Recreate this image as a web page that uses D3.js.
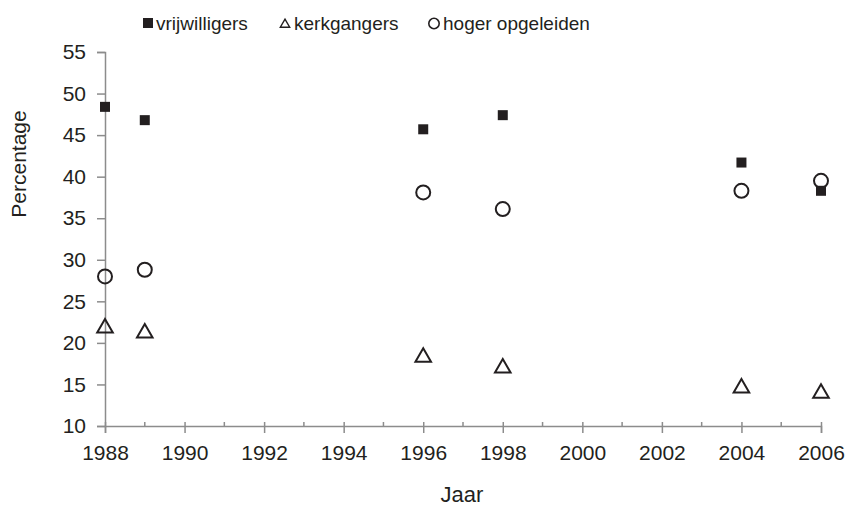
<!DOCTYPE html>
<html>
<head>
<meta charset="utf-8">
<script src="https://cdn.jsdelivr.net/npm/d3@7"></script>
<style>
body { margin: 0; background: #fff; }
text { font-family: "Liberation Sans", Arial, sans-serif; fill: #231f20; }
</style>
</head>
<body>
<div id="chart"></div>
<script>
var years = [1988, 1989, 1996, 1998, 2004, 2006];
var vrijwilligers = [48.4, 46.8, 45.7, 47.4, 41.7, 38.3];
var kerkgangers = [21.9, 21.3, 18.4, 17.1, 14.7, 14.05];
var hogerOpgeleiden = [28.0, 28.8, 38.1, 36.1, 38.3, 39.5];
var yTicks = [10, 15, 20, 25, 30, 35, 40, 45, 50, 55];
var xMajor = [1988, 1990, 1992, 1994, 1996, 1998, 2000, 2002, 2004, 2006];
var xMinor = [1989, 1991, 1993, 1995, 1997, 1999, 2001, 2003, 2005];

var svgWidth = 847;
var svgHeight = 508;

var margin = { top: 52, right: 26, bottom: 82, left: 105 };
var width = svgWidth - margin.left - margin.right;
var height = svgHeight - margin.top - margin.bottom;

var svg = d3.select("#chart")
    .append("svg")
    .attr("width", svgWidth)
    .attr("height", svgHeight);

var chartGroup = svg.append("g")
    .attr("transform", `translate(${margin.left}, ${margin.top})`);

var xScale = d3.scaleLinear().domain([1988, 2006]).range([0, width]);
var yScale = d3.scaleLinear().domain([10, 55]).range([height, 0]);

var axisColor = "#8c8c8c";

// y axis
var leftAxis = d3.axisLeft(yScale).tickValues(yTicks).tickSize(8).tickPadding(11);
var yAxis = chartGroup.append("g").call(leftAxis);
yAxis.select(".domain").attr("stroke", axisColor).attr("stroke-width", 1.5);
yAxis.selectAll(".tick line").attr("stroke", axisColor).attr("stroke-width", 1.5);
yAxis.selectAll("text").style("font-size", "21px").attr("fill", "#231f20");

// x axis
var bottomAxis = d3.axisBottom(xScale).tickValues(xMajor).tickFormat(d3.format("d")).tickSize(7).tickPadding(12);
var xAxis = chartGroup.append("g")
    .attr("transform", `translate(0, ${height})`)
    .call(bottomAxis);
xAxis.select(".domain").attr("stroke", axisColor).attr("stroke-width", 1.5);
xAxis.selectAll(".tick line").attr("stroke", axisColor).attr("stroke-width", 1.5).attr("y1", -4);
xAxis.selectAll("text").style("font-size", "21px").attr("fill", "#231f20");

xAxis.selectAll(".minor")
    .data(xMinor)
    .enter().append("line")
    .attr("x1", d => xScale(d))
    .attr("x2", d => xScale(d))
    .attr("y1", -4)
    .attr("y2", 0)
    .attr("stroke", axisColor)
    .attr("stroke-width", 1.5);

// axis titles
chartGroup.append("text")
    .attr("transform", "rotate(-90)")
    .attr("x", -112)
    .attr("y", -79)
    .attr("text-anchor", "middle")
    .style("font-size", "21px")
    .text("Percentage");

chartGroup.append("text")
    .attr("x", 357)
    .attr("y", 450)
    .attr("text-anchor", "middle")
    .style("font-size", "22px")
    .text("Jaar");

var markColor = "#231f20";
var triangle = d3.symbol().type(d3.symbolTriangle).size(105);

// hoger opgeleiden (circles)
chartGroup.selectAll(".hoger")
    .data(years)
    .enter().append("circle")
    .attr("cx", d => xScale(d))
    .attr("cy", (d, i) => yScale(hogerOpgeleiden[i]))
    .attr("r", 7)
    .attr("fill", "none")
    .attr("stroke", markColor)
    .attr("stroke-width", 2);

// vrijwilligers (squares)
chartGroup.selectAll(".vrij")
    .data(years)
    .enter().append("rect")
    .attr("x", d => xScale(d) - 5)
    .attr("y", (d, i) => yScale(vrijwilligers[i]) - 5)
    .attr("width", 10)
    .attr("height", 10)
    .attr("fill", markColor);

// kerkgangers (triangles)
chartGroup.selectAll(".kerk")
    .data(years)
    .enter().append("path")
    .attr("d", triangle)
    .attr("transform", (d, i) => `translate(${xScale(d)}, ${yScale(kerkgangers[i]) + 1})`)
    .attr("fill", "none")
    .attr("stroke", markColor)
    .attr("stroke-width", 2);

// legend
var legend = svg.append("g").attr("transform", "translate(0, 23)");
legend.append("rect")
    .attr("x", 143).attr("y", -5).attr("width", 10).attr("height", 10)
    .attr("fill", markColor);
legend.append("text").attr("x", 156).attr("y", 6.5).style("font-size", "19px").text("vrijwilligers");

legend.append("path")
    .attr("d", d3.symbol().type(d3.symbolTriangle).size(38))
    .attr("transform", "translate(285, 1.5)")
    .attr("fill", "none").attr("stroke", markColor).attr("stroke-width", 1.4);
legend.append("text").attr("x", 294).attr("y", 6.5).style("font-size", "19px").text("kerkgangers");

legend.append("circle")
    .attr("cx", 434).attr("cy", 0.5).attr("r", 5.2)
    .attr("fill", "none").attr("stroke", markColor).attr("stroke-width", 1.6);
legend.append("text").attr("x", 443).attr("y", 6.5).style("font-size", "19px").text("hoger opgeleiden");
</script>
</body>
</html>
